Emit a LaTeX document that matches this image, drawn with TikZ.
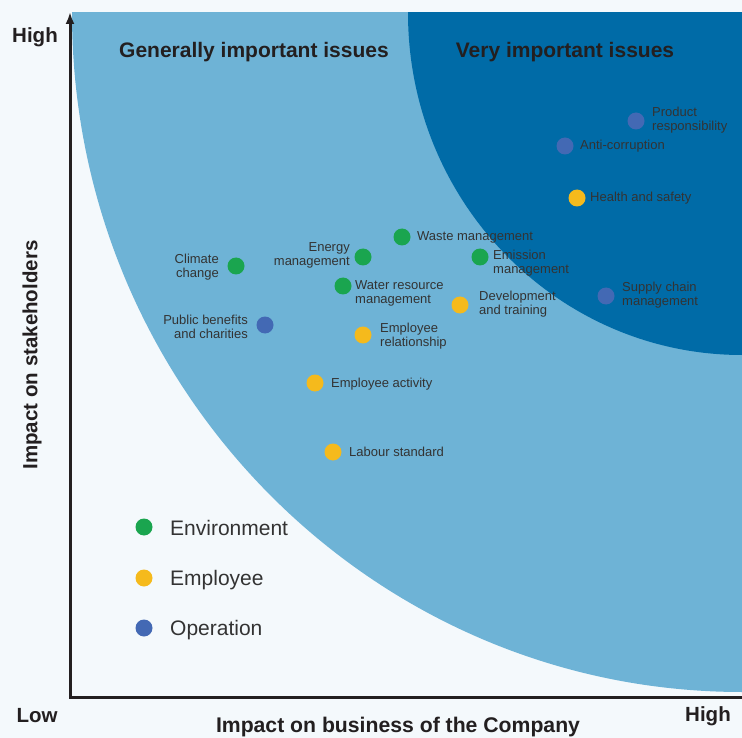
\documentclass[tikz,border=0pt]{standalone}
\usepackage{fontspec}
\setmainfont{Liberation Sans}
\usetikzlibrary{arrows.meta}
\definecolor{bg}{HTML}{F4F9FC}
\definecolor{lightblue}{HTML}{6EB3D6}
\definecolor{darkblue}{HTML}{006BA7}
\definecolor{cgreen}{HTML}{1AA54F}
\definecolor{cyellow}{HTML}{F5BA1C}
\definecolor{cblue}{HTML}{4369B4}
\definecolor{txt}{HTML}{333333}
\definecolor{axiscol}{HTML}{231F20}
\begin{document}
\begin{tikzpicture}[x=1pt,y=-1pt,
  dot/.style={circle,inner sep=0pt,minimum size=17pt},
  env/.style={dot,fill=cgreen},
  emp/.style={dot,fill=cyellow},
  ops/.style={dot,fill=cblue},
  lab/.style={font=\fontsize{13}{14}\selectfont,text=txt,inner sep=0pt},
  labl/.style={lab,anchor=west,align=left},
  labr/.style={lab,anchor=east,align=right},
  legendtext/.style={font=\fontsize{21}{24}\selectfont,text=txt,inner sep=0pt,anchor=west},
  title/.style={font=\fontsize{21}{24}\selectfont\bfseries,text=axiscol,inner sep=0pt},
  axislabel/.style={font=\fontsize{20.5}{24}\selectfont\bfseries,text=axiscol,inner sep=0pt},
  axisline/.style={draw=axiscol,line width=3pt,line join=miter}]
\useasboundingbox (0,0) rectangle (742,738);
\fill[bg] (0,0) rectangle (742,738);
\begin{scope}
  \clip (0,13) rectangle (742,738);
  \fill[lightblue] (742,13) ellipse [x radius=670, y radius=679];
  \fill[darkblue] (742,13) ellipse [x radius=334, y radius=342];
\end{scope}

% axes
\coordinate (origin) at (70,697);
\coordinate (ytop) at (70,12);
\coordinate (xend) at (742,697);
\draw[axisline,-{Latex[length=12pt,width=9pt]}] (xend) -- (origin) -- (ytop);

% axis labels
\node[axislabel] (yhigh) at (35,37) {High};
\node[axislabel] (xlow) at (37,716) {Low};
\node[axislabel] (xhigh) at (708,716) {High};
\node[axislabel,font=\fontsize{21.2}{24}\selectfont\bfseries] (xtitle) at (398,727) {Impact on business of the Company};
\node[axislabel,rotate=90] (ytitle) at (32,355) {Impact on stakeholders};

% region titles
\node[title] (gen) at (254,52) {Generally important issues};
\node[title] (very) at (565,52) {Very important issues};

% issues
\node[ops] (prod) at (636,121) {};
\node[labl] (prodL) at (652,120.5) {Product\\responsibility};
\node[ops] (anti) at (565,146) {};
\node[labl] (antiL) at (580,146) {Anti-corruption};
\node[emp] (health) at (577,198) {};
\node[labl] (healthL) at (590,198) {Health and safety};
\node[env] (waste) at (402,237) {};
\node[labl] (wasteL) at (417,237) {Waste management};
\node[env] (emis) at (480,257) {};
\node[labl] (emisL) at (493,263.5) {Emission\\management};
\node[env] (energy) at (363,257) {};
\node[labr] (energyL) at (350,255) {Energy\\management};
\node[env] (climate) at (236,266) {};
\node[labr] (climateL) at (219,267) {Climate\\change};
\node[env] (water) at (343,286) {};
\node[labl] (waterL) at (355,293) {Water resource\\management};
\node[ops] (public) at (265,325) {};
\node[labr] (publicL) at (248,327) {Public benefits\\and charities};
\node[emp] (emprel) at (363,335) {};
\node[labl] (emprelL) at (380,336) {Employee\\relationship};
\node[emp] (dev) at (460,305) {};
\node[labl] (devL) at (479,304.5) {Development\\and training};
\node[ops] (supply) at (606,296) {};
\node[labl] (supplyL) at (622,295.5) {Supply chain\\management};
\node[emp] (empact) at (315,383) {};
\node[labl] (empactL) at (331,384) {Employee activity};
\node[emp] (labour) at (333,452) {};
\node[labl] (labourL) at (349,452) {Labour standard};

% legend
\node[env] (legenv) at (144,527) {};
\node[legendtext] (legenvL) at (170,528) {Environment};
\node[emp] (legemp) at (144,578) {};
\node[legendtext] (legempL) at (170,580) {Employee};
\node[ops] (legops) at (144,628) {};
\node[legendtext] (legopsL) at (170,630) {Operation};
\end{tikzpicture}
\end{document}
